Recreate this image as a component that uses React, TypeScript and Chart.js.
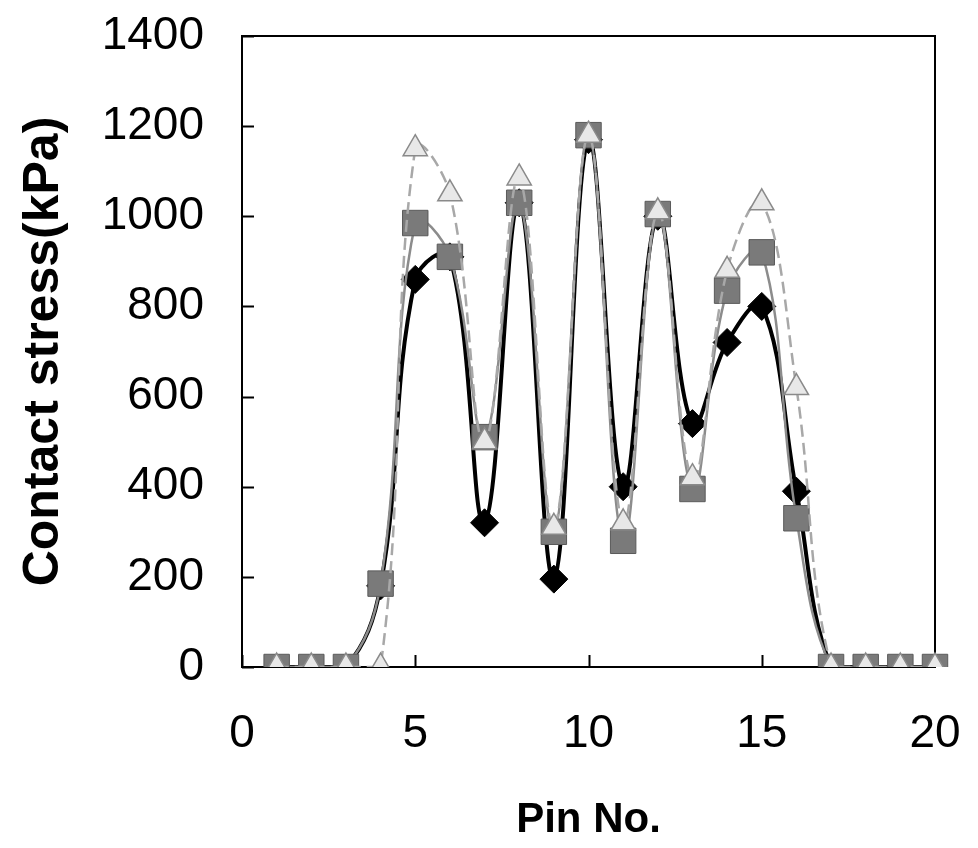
import React, { useEffect, useRef } from "react";
import { Chart, registerables } from "chart.js";

Chart.register(...registerables);

// Pin numbers (x values)
const pins = [1, 2, 3, 4, 5, 6, 7, 8, 9, 10, 11, 12, 13, 14, 15, 16, 17, 18, 19, 20];

// Series values (kPa)
const diamondValues = [0, 0, 0, 180, 860, 910, 320, 1030, 195, 1170, 400, 1000, 540, 720, 800, 390, 0, 0, 0, 0];
const squareValues = [0, 0, 0, 185, 985, 910, 510, 1030, 300, 1180, 280, 1005, 395, 835, 920, 330, 0, 0, 0, 0];
const triangleValues = [0, 0, 0, 0, 1150, 1050, 500, 1085, 310, 1180, 320, 1010, 420, 880, 1030, 620, 0, 0, 0, 0];

const xTicks = [0, 5, 10, 15, 20];
const yTicks = [0, 200, 400, 600, 800, 1000, 1200, 1400];

const xTitle = "Pin No.";
const yTitle = "Contact stress(kPa)";

const FONT = "'Liberation Sans', Arial, Helvetica, sans-serif";
const W = 978;
const H = 848;

const toPoints = (vals: number[]) => pins.map((p, i) => ({ x: p, y: vals[i] }));

const framePlugin = {
  id: "frameTicks",
  beforeDatasetsDraw(chart: any) {
    const { ctx, chartArea: a, scales } = chart;
    ctx.save();
    ctx.strokeStyle = "#000";
    ctx.lineWidth = 2;
    ctx.strokeRect(a.left, a.top, a.right - a.left, a.bottom - a.top);
    ctx.beginPath();
    for (const v of yTicks) {
      const py = Math.round(scales.y.getPixelForValue(v)) + 0.5;
      ctx.moveTo(a.left, py);
      ctx.lineTo(a.left + 12, py);
    }
    for (const v of xTicks) {
      const px = Math.round(scales.x.getPixelForValue(v)) + 0.5;
      ctx.moveTo(px, a.bottom);
      ctx.lineTo(px, a.bottom - 12);
    }
    ctx.stroke();
    ctx.restore();
  },
};

const markerClip = { left: 30, right: 30, top: 30, bottom: 0 };

const zeroPad = (s: any) => {
  s.paddingTop = 0;
  s.paddingBottom = 0;
  s.paddingLeft = 0;
  s.paddingRight = 0;
};

export default function App() {
  const ref = useRef<HTMLCanvasElement | null>(null);

  useEffect(() => {
    document.body.style.margin = "0";
    const canvas = ref.current;
    if (!canvas) return;
    const chart = new Chart(canvas, {
      type: "line",
      data: {
        datasets: [
          {
            label: "triangle",
            data: toPoints(triangleValues),
            borderColor: "#a8a8a8",
            borderWidth: 2.5,
            borderDash: [12, 6],
            backgroundColor: "#e8e8e8",
            pointStyle: "triangle",
            pointRadius: 14,
            pointBorderColor: "#8a8a8a",
            pointBorderWidth: 1.5,
            tension: 0.4,
            clip: markerClip,
          },
          {
            label: "square",
            data: toPoints(squareValues),
            borderColor: "#8c8c8c",
            borderWidth: 2.5,
            backgroundColor: "#7a7a7a",
            pointStyle: "rect",
            pointRadius: 18,
            pointBorderColor: "#5a5a5a",
            pointBorderWidth: 1,
            tension: 0.4,
            clip: markerClip,
          },
          {
            label: "diamond",
            data: toPoints(diamondValues),
            borderColor: "#000",
            borderWidth: 4,
            backgroundColor: "#000",
            pointStyle: "rectRot",
            pointRadius: (c: any) => (c.raw && c.raw.y === 0 ? 0 : 14),
            pointBorderColor: "#000",
            pointBorderWidth: 1,
            tension: 0.4,
            clip: markerClip,
          },
        ],
      },
      options: {
        responsive: false,
        animation: false,
        layout: { padding: { top: 36, right: 43, left: 0, bottom: 0 } },
        plugins: {
          legend: { display: false },
          tooltip: { enabled: false },
        },
        scales: {
          x: {
            type: "linear",
            min: 0,
            max: 20,
            afterBuildTicks: (s: any) => {
              s.ticks = xTicks.map((v) => ({ value: v }));
            },
            afterFit: (s: any) => {
              s.height = H - 667;
              zeroPad(s);
            },
            grid: { display: false, drawTicks: false },
            border: { display: false },
            ticks: {
              padding: 40,
              color: "#000",
              font: { family: FONT, size: 46 },
              maxRotation: 0,
              callback: (v: any) => String(v),
            },
            title: {
              display: true,
              text: xTitle,
              color: "#000",
              font: { family: FONT, size: 42, weight: "bold" },
              padding: { top: 0, bottom: 2 },
            },
          },
          y: {
            type: "linear",
            min: 0,
            max: 1400,
            afterBuildTicks: (s: any) => {
              s.ticks = yTicks.map((v) => ({ value: v }));
            },
            afterFit: (s: any) => {
              s.width = 242;
              zeroPad(s);
            },
            grid: { display: false, drawTicks: false },
            border: { display: false },
            ticks: {
              padding: 38,
              color: "#000",
              font: { family: FONT, size: 46 },
              callback: (v: any) => String(v),
            },
            title: {
              display: true,
              text: yTitle,
              color: "#000",
              font: { family: FONT, size: 50, weight: "bold" },
              padding: { top: 14, bottom: 0 },
            },
          },
        },
      },
      plugins: [framePlugin],
    } as any);
    return () => chart.destroy();
  }, []);

  return (
    <div style={{ width: W, height: H, background: "#fff" }}>
      <canvas ref={ref} width={W} height={H} style={{ display: "block" }} />
    </div>
  );
}
